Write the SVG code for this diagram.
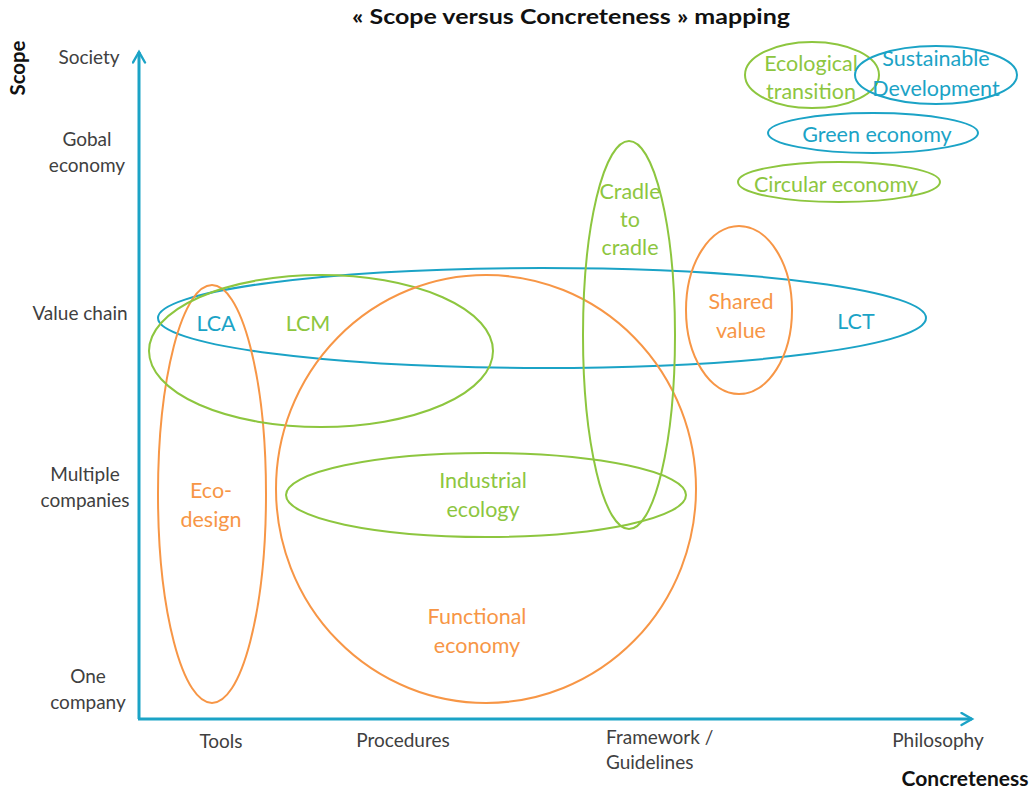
<svg xmlns="http://www.w3.org/2000/svg" width="1032" height="791" viewBox="0 0 1032 791">
  <style>
    .axis { fill: none; stroke: #1ba3c6; stroke-width: 3; }
    .ring { fill: none; stroke-width: 2; }
    .blue { stroke: #1ba3c6; }
    .green { stroke: #8dc63f; }
    .orange { stroke: #f79646; }
    text { font-family: Lato, "Open Sans", "Liberation Sans", sans-serif; text-anchor: middle; }
    .tick { font-size: 19px; fill: #404040; }
    .head { font-size: 20px; font-weight: bold; fill: #111; }
    .lbl { font-size: 21.5px; }
    .tb { fill: #1ba3c6; }
    .tg { fill: #8dc63f; }
    .to { fill: #f79646; }
  </style>
  <defs>
    <marker id="tip" viewBox="0 0 10 10" refX="8" refY="5" markerWidth="5" markerHeight="5" orient="auto" markerUnits="strokeWidth">
      <path d="M1,1 L8,5 L1,9" fill="none" stroke="#1ba3c6" stroke-width="1.6" stroke-linecap="round"/>
    </marker>
  </defs>
  <rect width="1032" height="791" fill="#fff"/>

  <text class="head" x="571" y="24" textLength="438" lengthAdjust="spacingAndGlyphs">« Scope versus Concreteness » mapping</text>
  <text class="head" transform="translate(25,68) rotate(-90)" x="0" y="0" textLength="55" lengthAdjust="spacingAndGlyphs">Scope</text>
  <text class="head" x="965" y="786" textLength="127" lengthAdjust="spacingAndGlyphs">Concreteness</text>

  <!-- axes -->
  <g id="axes">
    <path class="axis" d="M139,719 L139,52" marker-end="url(#tip)"/>
    <path class="axis" d="M138,719 L972,719" marker-end="url(#tip)"/>
  </g>

  <!-- scope levels -->
  <g id="scope-levels" class="tick">
    <text x="89" y="64">Society</text>
    <text x="87" y="146">Gobal</text>
    <text x="87" y="172">economy</text>
    <text x="80" y="320">Value chain</text>
    <text x="85" y="481">Multiple</text>
    <text x="85" y="507">companies</text>
    <text x="88" y="683">One</text>
    <text x="88" y="709">company</text>
  </g>

  <!-- concreteness levels -->
  <g id="concreteness-levels" class="tick">
    <text x="221" y="748">Tools</text>
    <text x="403" y="747">Procedures</text>
    <text x="606" y="744" style="text-anchor:start">Framework /</text>
    <text x="606" y="769" style="text-anchor:start">Guidelines</text>
    <text x="938" y="747">Philosophy</text>
  </g>

  <g id="lct">
    <ellipse class="ring blue" cx="542" cy="318" rx="384" ry="50"/>
    <text class="lbl tb" x="856" y="329">LCT</text>
  </g>
  <g id="eco-design">
    <ellipse class="ring orange" cx="212" cy="494" rx="54" ry="209"/>
    <text class="lbl to" x="211" y="498">Eco-</text>
    <text class="lbl to" x="211" y="527">design</text>
  </g>
  <g id="lcm">
    <ellipse class="ring green" cx="321" cy="351" rx="172" ry="76"/>
    <text class="lbl tg" x="308" y="331">LCM</text>
  </g>
  <g id="lca">
    <text class="lbl tb" x="216" y="331">LCA</text>
  </g>
  <g id="functional-economy">
    <ellipse class="ring orange" cx="486" cy="489" rx="210" ry="214"/>
    <text class="lbl to" x="477" y="624">Functional</text>
    <text class="lbl to" x="477" y="653">economy</text>
  </g>
  <g id="industrial-ecology">
    <ellipse class="ring green" cx="486" cy="495" rx="200" ry="42"/>
    <text class="lbl tg" x="483" y="488">Industrial</text>
    <text class="lbl tg" x="483" y="517">ecology</text>
  </g>
  <g id="cradle-to-cradle">
    <ellipse class="ring green" cx="629" cy="335" rx="46" ry="194"/>
    <text class="lbl tg" x="630" y="199">Cradle</text>
    <text class="lbl tg" x="630" y="227">to</text>
    <text class="lbl tg" x="630" y="255">cradle</text>
  </g>
  <g id="shared-value">
    <ellipse class="ring orange" cx="739" cy="310" rx="53" ry="84"/>
    <text class="lbl to" x="741" y="309">Shared</text>
    <text class="lbl to" x="741" y="338">value</text>
  </g>
  <g id="circular-economy">
    <ellipse class="ring green" cx="839" cy="182" rx="101" ry="20"/>
    <text class="lbl tg" x="836" y="192">Circular economy</text>
  </g>
  <g id="green-economy">
    <ellipse class="ring blue" cx="873" cy="133" rx="105" ry="20"/>
    <text class="lbl tb" x="877" y="142">Green economy</text>
  </g>
  <g id="ecological-transition">
    <ellipse class="ring green" cx="812" cy="75" rx="67" ry="33"/>
    <text class="lbl tg" x="811" y="71">Ecological</text>
    <text class="lbl tg" x="811" y="99">transition</text>
  </g>
  <g id="sustainable-development">
    <ellipse class="ring blue" cx="936" cy="75" rx="81" ry="29"/>
    <text class="lbl tb" x="936" y="66">Sustainable</text>
    <text class="lbl tb" x="936" y="96">Development</text>
  </g>
</svg>
